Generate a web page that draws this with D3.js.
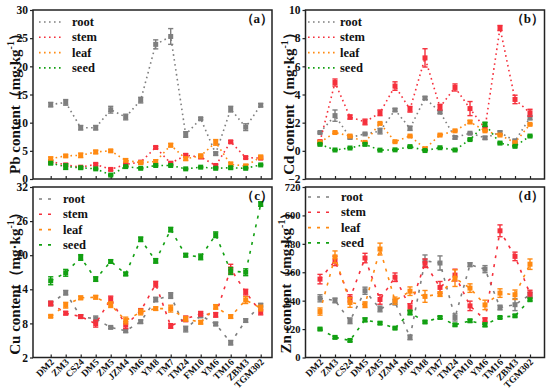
<!DOCTYPE html>
<html><head><meta charset="utf-8">
<script src="https://cdn.jsdelivr.net/npm/d3@7"></script>
<style>
body{margin:0;background:#fff}
svg{display:block}
text{font-family:"Liberation Serif","Times New Roman",serif;font-weight:bold;fill:#111}
</style>
</head><body>
<svg id="chart" width="550" height="392"></svg>
<script>
// ---------- data ----------
const categories = ["DM2","ZM3","CS24","DM5","ZM5","JZM4","JM6","YM8","TM7","TM24","FM10","YM6","TM16","ZBM3","TGM302"];
const seriesNames = ["root","stem","leaf","seed"];
const seriesColors = ["#7f7f7f","#f5303c","#ff8a12","#12a012"];

const pbTicks = [0,5,10,15,20,25,30];
const cdTicks = [-2,0,2,4,6,8,10];
const cuTicks = [2,8,14,20,26,32];
const znTicks = [0,120,240,360,480,600,720];

const pbRoot = [13.2,13.6,9.1,9.1,12.3,11.0,14.0,23.9,25.3,7.9,10.7,4.5,12.4,9.2,13.1];
const pbStem = [3.1,2.5,2.1,2.6,1.7,2.6,3.0,5.6,2.8,4.2,3.9,2.4,6.6,3.8,3.7];
const pbLeaf = [3.6,4.1,4.2,4.8,5.0,3.3,2.9,3.1,6.0,3.6,4.1,6.5,2.6,2.3,3.9];
const pbSeed = [2.8,2.2,2.0,1.8,0.7,2.2,1.9,2.4,2.4,1.8,2.1,1.9,2.0,1.9,2.5];
const pbRootSd = [0.4,0.5,0.4,0.4,0.6,0.5,0.5,0.8,1.4,0.5,0.2,0.3,0.5,0.6,0.3];
const pbStemSd = [0.2,0.2,0.1,0.2,0.2,0.2,0.2,0.2,0.2,0.3,0.2,0.2,0.2,0.2,0.2];
const pbLeafSd = [0.3,0.2,0.4,0.3,0.2,0.3,0.3,0.3,0.3,0.3,0.3,0.5,0.4,0.3,0.3];
const pbSeedSd = [0.2,0.5,0.2,0.1,0.1,0.1,0.1,0.1,0.1,0.1,0.1,0.1,0.2,0.1,0.1];

const cdRoot = [1.3,2.5,0.95,1.2,1.4,2.9,1.6,3.75,2.75,0.95,1.25,0.92,1.3,0.7,2.35];
const cdStem = [0.65,4.85,2.4,2.05,2.7,4.6,2.95,6.6,3.1,4.5,3.0,1.6,8.72,3.65,2.7];
const cdLeaf = [0.6,1.3,1.05,0.6,1.95,0.65,1.05,0.15,1.12,1.42,2.05,1.42,1.12,0.58,1.88];
const cdSeed = [0.46,0.06,0.2,0.46,0.05,0.07,0.3,0.02,0.22,0.06,0.8,1.88,0.55,0.32,1.05];
const cdRootSd = [0.05,0.4,0.1,0.05,0.2,0.1,0.15,0.1,0.1,0.1,0.05,0.1,0.1,0.12,0.15];
const cdStemSd = [0.1,0.25,0.15,0.2,0.2,0.3,0.2,0.65,0.2,0.25,0.5,0.1,0.18,0.3,0.25];
const cdLeafSd = [0.05,0.05,0.08,0.05,0.06,0.05,0.05,0.08,0.05,0.05,0.1,0.05,0.05,0.08,0.05];
const cdSeedSd = [0.05,0.03,0.03,0.08,0.03,0.03,0.05,0.03,0.03,0.03,0.05,0.15,0.05,0.05,0.05];

const cuRoot = [11.5,13.4,9.2,8.8,7.3,6.7,8.3,12.2,12.9,7.0,9.4,7.9,4.6,8.5,11.2];
const cuStem = [11.5,9.8,9.2,7.95,12.3,7.7,10.2,14.9,7.55,8.8,9.7,9.5,17.6,13.5,10.0];
const cuLeaf = [9.25,11.2,12.5,12.6,11.3,8.5,10.0,10.6,10.6,8.8,8.2,10.9,9.2,12.1,10.7];
const cuSeed = [15.5,16.9,19.6,15.8,18.9,16.7,22.8,19.0,24.5,20.0,19.7,23.6,17.2,17.0,29.0];
const cuRootSd = [0.4,0.4,0.3,0.5,0.2,0.3,0.3,0.4,0.5,0.5,0.4,0.3,0.4,0.3,0.3];
const cuStemSd = [0.4,0.3,0.3,0.6,0.5,0.6,0.4,0.5,0.4,0.5,0.4,0.4,0.8,0.5,0.5];
const cuLeafSd = [0.2,0.5,0.3,0.3,0.5,0.6,0.5,0.3,0.6,0.4,0.3,0.4,0.3,0.6,0.5];
const cuSeedSd = [0.7,0.6,0.5,0.4,0.3,0.3,0.4,0.4,0.4,0.3,0.5,0.5,0.6,0.6,0.4];

const znRoot = [250,241,155,282,205,234,85,408,399,169,392,373,211,223,265];
const znStem = [331,408,250,420,245,339,212,398,296,348,218,159,535,427,269];
const znLeaf = [194,425,232,223,458,240,280,258,268,335,293,222,272,265,394];
const znSeed = [120,85,72,159,145,124,190,150,169,138,155,138,169,176,244];
const znRootSd = [15,10,12,15,12,12,10,25,30,15,8,15,10,25,10];
const znStemSd = [20,20,15,20,20,18,15,18,25,25,20,8,25,18,15];
const znLeafSd = [15,25,20,12,25,15,18,25,10,35,18,20,18,20,22];
const znSeedSd = [4,5,5,8,5,4,10,5,5,5,6,8,4,5,5];

// ---------- layout ----------
const panels = [
  {tag:"（a）", tagW:"bold", metal:"Pb", vals:[pbRoot,pbStem,pbLeaf,pbSeed], sds:[pbRootSd,pbStemSd,pbLeafSd,pbSeedSd],
   ticks:pbTicks, fx:[33,272], fy:[10,179], cx:[50.7,260.7], dash:"1.6,3.4", xLabels:false,
   titleX:20, titleY:100, tickFont:11.5, legX:[39,62,72], legY:22, tagX:273, tagY:23},
  {tag:"（b）", tagW:"normal", metal:"Cd", vals:[cdRoot,cdStem,cdLeaf,cdSeed], sds:[cdRootSd,cdStemSd,cdLeafSd,cdSeedSd],
   ticks:cdTicks, fx:[305.5,544.5], fy:[10,179], cx:[320,530], dash:"1.6,3.4", xLabels:false,
   titleX:294, titleY:100, tickFont:11.5, legX:[308,336,340], legY:22, tagX:544, tagY:23},
  {tag:"（c）", tagW:"normal", metal:"Cu", vals:[cuRoot,cuStem,cuLeaf,cuSeed], sds:[cuRootSd,cuStemSd,cuLeafSd,cuSeedSd],
   ticks:cuTicks, fx:[33,272], fy:[187,357.5], cx:[50.7,260.7], dash:"3,6", xLabels:true,
   titleX:20, titleY:280, tickFont:11.5, legX:[39,54,63], legY:199, tagX:273, tagY:200},
  {tag:"（d）", tagW:"bold", metal:"Zn", vals:[znRoot,znStem,znLeaf,znSeed], sds:[znRootSd,znStemSd,znLeafSd,znSeedSd],
   ticks:znTicks, fx:[305.5,544.5], fy:[187,357.5], cx:[320,530], dash:"3,6", xLabels:true,
   titleX:291, titleY:279, tickFont:10.5, legX:[308,334,341], legY:197, tagX:544, tagY:200}
];

const svg = d3.select("#chart");

panels.forEach(p => {
  const g = svg.append("g");
  const x = d3.scalePoint().domain(categories).range(p.cx);
  const y = d3.scaleLinear().domain([p.ticks[0], p.ticks[p.ticks.length-1]]).range([p.fy[1], p.fy[0]]);

  // frame
  g.append("rect").attr("x",p.fx[0]).attr("y",p.fy[0])
    .attr("width",p.fx[1]-p.fx[0]).attr("height",p.fy[1]-p.fy[0])
    .attr("fill","none").attr("stroke","#222").attr("stroke-width",1.5);

  // y axis
  const ya = g.append("g").attr("transform",`translate(${p.fx[0]},0)`)
    .call(d3.axisLeft(y).tickValues(p.ticks).tickSize(3).tickPadding(2));
  ya.select(".domain").remove();
  ya.selectAll("line").attr("stroke","#222").attr("stroke-width",1.2);
  ya.selectAll("text").attr("font-size",p.tickFont).attr("font-family","Liberation Serif").attr("font-weight","bold").attr("fill","#111");

  // x axis (inward ticks)
  const xa = g.append("g").attr("transform",`translate(0,${p.fy[1]})`)
    .call(d3.axisBottom(x).tickSize(-3).tickFormat(""));
  xa.select(".domain").remove();
  xa.selectAll("line").attr("stroke","#222").attr("stroke-width",1.2);
  if (p.xLabels) {
    g.selectAll(".xl").data(categories).enter().append("text")
      .attr("transform", d => `translate(${x(d)+3.8},${p.fy[1]+5.2}) rotate(-45)`)
      .attr("text-anchor","end").attr("font-size",9.5).text(d => d);
  }

  // y title
  const t = g.append("text").attr("transform",`translate(${p.titleX},${p.titleY}) rotate(-90)`)
    .attr("text-anchor","middle").attr("font-size",15);
  t.append("tspan").text(p.metal + " content（mg·kg");
  t.append("tspan").attr("dy",-6).attr("font-size",10).text("-1");
  t.append("tspan").attr("dy",6).text("）");

  // series
  const line = d3.line().x((d,i) => x(categories[i])).y(d => y(d));
  p.vals.forEach((vals, s) => {
    const col = seriesColors[s];
    g.append("path").datum(vals).attr("d",line).attr("fill","none")
      .attr("stroke",col).attr("stroke-width",1.6).attr("stroke-dasharray",p.dash);
    const sd = p.sds[s];
    const eb = g.append("g").attr("stroke",col).attr("stroke-width",1.4);
    vals.forEach((v,i) => {
      const cx = x(categories[i]);
      eb.append("line").attr("x1",cx).attr("x2",cx).attr("y1",y(v-sd[i])).attr("y2",y(v+sd[i]));
      eb.append("line").attr("x1",cx-2.6).attr("x2",cx+2.6).attr("y1",y(v-sd[i])).attr("y2",y(v-sd[i]));
      eb.append("line").attr("x1",cx-2.6).attr("x2",cx+2.6).attr("y1",y(v+sd[i])).attr("y2",y(v+sd[i]));
    });
    g.selectAll(null).data(vals).enter().append("rect")
      .attr("x",(d,i) => x(categories[i])-2.5).attr("y",d => y(d)-2.5)
      .attr("width",5).attr("height",5).attr("fill",col);
  });

  // legend
  seriesNames.forEach((name,s) => {
    const ly = p.legY + s*15.3;
    g.append("line").attr("x1",p.legX[0]).attr("x2",p.legX[1]).attr("y1",ly).attr("y2",ly)
      .attr("stroke",seriesColors[s]).attr("stroke-width",1.6).attr("stroke-dasharray",p.dash);
    g.append("text").attr("x",p.legX[2]).attr("y",ly).attr("dy","0.32em").attr("font-size",12.5).text(name);
  });

  // panel tag
  g.append("text").attr("x",p.tagX).attr("y",p.tagY).attr("text-anchor","end")
    .attr("font-size",13).attr("font-weight",p.tagW).text(p.tag);
});
</script>
</body></html>
